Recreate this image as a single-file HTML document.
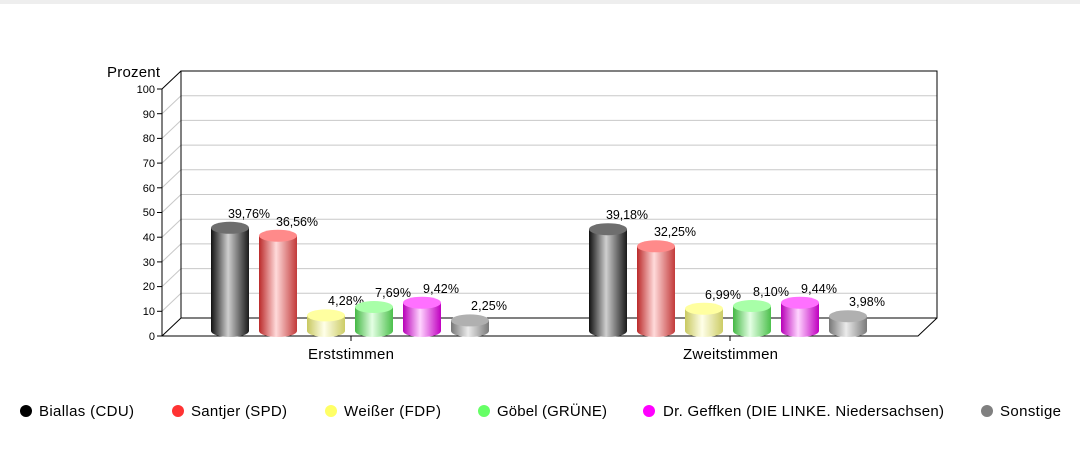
<!DOCTYPE html>
<html><head><meta charset="utf-8"><style>
html,body{margin:0;padding:0;background:#fff;}
svg{display:block;font-family:"Liberation Sans",Arial,sans-serif;}
</style></head><body>
<svg width="1080" height="450" viewBox="0 0 1080 450" xmlns="http://www.w3.org/2000/svg">
<defs>
<linearGradient id="g0" x1="0" x2="1"><stop offset="0" stop-color="#111"/><stop offset="0.45" stop-color="#cfcfcf"/><stop offset="1" stop-color="#1a1a1a"/></linearGradient>
<linearGradient id="g1" x1="0" x2="1"><stop offset="0" stop-color="#bb2a2a"/><stop offset="0.45" stop-color="#ffdada"/><stop offset="1" stop-color="#c23a3a"/></linearGradient>
<linearGradient id="g2" x1="0" x2="1"><stop offset="0" stop-color="#c8c860"/><stop offset="0.45" stop-color="#ffffe8"/><stop offset="1" stop-color="#cccc66"/></linearGradient>
<linearGradient id="g3" x1="0" x2="1"><stop offset="0" stop-color="#44b844"/><stop offset="0.45" stop-color="#e4ffe4"/><stop offset="1" stop-color="#4cc04c"/></linearGradient>
<linearGradient id="g4" x1="0" x2="1"><stop offset="0" stop-color="#b800b8"/><stop offset="0.45" stop-color="#ffd4ff"/><stop offset="1" stop-color="#c000c0"/></linearGradient>
<linearGradient id="g5" x1="0" x2="1"><stop offset="0" stop-color="#777"/><stop offset="0.45" stop-color="#ebebeb"/><stop offset="1" stop-color="#7a7a7a"/></linearGradient>
</defs>
<rect x="0" y="0" width="1080" height="4" fill="#eeeeee"/>
<g stroke="#c8c8c8" stroke-width="1">
<line x1="181" y1="293.3" x2="937" y2="293.3"/><line x1="181" y1="268.6" x2="937" y2="268.6"/><line x1="181" y1="243.9" x2="937" y2="243.9"/><line x1="181" y1="219.2" x2="937" y2="219.2"/><line x1="181" y1="194.5" x2="937" y2="194.5"/><line x1="181" y1="169.8" x2="937" y2="169.8"/><line x1="181" y1="145.1" x2="937" y2="145.1"/><line x1="181" y1="120.4" x2="937" y2="120.4"/><line x1="181" y1="95.7" x2="937" y2="95.7"/>
<line x1="162" y1="311.3" x2="181" y2="293.3"/><line x1="162" y1="286.6" x2="181" y2="268.6"/><line x1="162" y1="261.9" x2="181" y2="243.9"/><line x1="162" y1="237.2" x2="181" y2="219.2"/><line x1="162" y1="212.5" x2="181" y2="194.5"/><line x1="162" y1="187.8" x2="181" y2="169.8"/><line x1="162" y1="163.1" x2="181" y2="145.1"/><line x1="162" y1="138.4" x2="181" y2="120.4"/><line x1="162" y1="113.7" x2="181" y2="95.7"/>
</g>
<g stroke="#000" stroke-width="1" fill="none">
<polyline points="181,318 181,71 937,71 937,318 181,318"/>
<line x1="162" y1="336" x2="181" y2="318"/><line x1="162" y1="89" x2="181" y2="71"/>
<line x1="162" y1="336" x2="162" y2="89"/>
<polyline points="162,336 918,336 937,318"/>
<line x1="351" y1="336" x2="351" y2="341"/><line x1="730" y1="336" x2="730" y2="341"/>
</g>
<g stroke="#000"><line x1="157" y1="336" x2="162" y2="336"/><line x1="157" y1="311.3" x2="162" y2="311.3"/><line x1="157" y1="286.6" x2="162" y2="286.6"/><line x1="157" y1="261.9" x2="162" y2="261.9"/><line x1="157" y1="237.2" x2="162" y2="237.2"/><line x1="157" y1="212.5" x2="162" y2="212.5"/><line x1="157" y1="187.8" x2="162" y2="187.8"/><line x1="157" y1="163.1" x2="162" y2="163.1"/><line x1="157" y1="138.4" x2="162" y2="138.4"/><line x1="157" y1="113.7" x2="162" y2="113.7"/><line x1="157" y1="89" x2="162" y2="89"/></g>
<g font-size="11" text-anchor="end" fill="#000">
<text x="155" y="340">0</text><text x="155" y="315">10</text><text x="155" y="290">20</text><text x="155" y="266">30</text><text x="155" y="241">40</text><text x="155" y="216">50</text><text x="155" y="192">60</text><text x="155" y="167">70</text><text x="155" y="142">80</text><text x="155" y="118">90</text><text x="155" y="93">100</text>
</g>
<text x="107" y="77" font-size="15" textLength="53">Prozent</text>
<g font-size="15"><text x="308" y="359" textLength="86">Erststimmen</text><text x="683" y="359" textLength="95">Zweitstimmen</text></g>
<g font-size="15">
<circle cx="26" cy="411" r="6" fill="#000"/><text x="39" y="416" textLength="95">Biallas (CDU)</text>
<circle cx="178" cy="411" r="6" fill="#ff3333"/><text x="191" y="416" textLength="96">Santjer (SPD)</text>
<circle cx="331" cy="411" r="6" fill="#ffff66"/><text x="344" y="416" textLength="97">Weißer (FDP)</text>
<circle cx="484" cy="411" r="6" fill="#66ff66"/><text x="497" y="416" textLength="110">Göbel (GRÜNE)</text>
<circle cx="649" cy="411" r="6" fill="#ff00ff"/><text x="663" y="416" textLength="281">Dr. Geffken (DIE LINKE. Niedersachsen)</text>
<circle cx="987" cy="411" r="6" fill="#808080"/><text x="1000" y="416" textLength="61">Sonstige</text>
</g>
<g font-size="12.5">
<rect x="211" y="227.8" width="38" height="103.2" fill="url(#g0)"/><ellipse cx="230" cy="331" rx="19" ry="6" fill="url(#g0)"/><ellipse cx="230" cy="227.8" rx="19" ry="6" fill="#6e6e6e"/><text x="228" y="218" textLength="42">39,76%</text>
<rect x="259" y="235.7" width="38" height="95.3" fill="url(#g1)"/><ellipse cx="278" cy="331" rx="19" ry="6" fill="url(#g1)"/><ellipse cx="278" cy="235.7" rx="19" ry="6" fill="#ff8a8a"/><text x="276" y="226" textLength="42">36,56%</text>
<rect x="307" y="315.4" width="38" height="15.6" fill="url(#g2)"/><ellipse cx="326" cy="331" rx="19" ry="6" fill="url(#g2)"/><ellipse cx="326" cy="315.4" rx="19" ry="6" fill="#ffffa0"/><text x="328" y="305" textLength="36">4,28%</text>
<rect x="355" y="307" width="38" height="24" fill="url(#g3)"/><ellipse cx="374" cy="331" rx="19" ry="6" fill="url(#g3)"/><ellipse cx="374" cy="307" rx="19" ry="6" fill="#a8ffa8"/><text x="375" y="297" textLength="36">7,69%</text>
<rect x="403" y="302.7" width="38" height="28.3" fill="url(#g4)"/><ellipse cx="422" cy="331" rx="19" ry="6" fill="url(#g4)"/><ellipse cx="422" cy="302.7" rx="19" ry="6" fill="#ff70ff"/><text x="423" y="293" textLength="36">9,42%</text>
<rect x="451" y="320.4" width="38" height="10.6" fill="url(#g5)"/><ellipse cx="470" cy="331" rx="19" ry="6" fill="url(#g5)"/><ellipse cx="470" cy="320.4" rx="19" ry="6" fill="#b0b0b0"/><text x="471" y="310" textLength="36">2,25%</text>

<rect x="589" y="229.2" width="38" height="101.8" fill="url(#g0)"/><ellipse cx="608" cy="331" rx="19" ry="6" fill="url(#g0)"/><ellipse cx="608" cy="229.2" rx="19" ry="6" fill="#6e6e6e"/><text x="606" y="219" textLength="42">39,18%</text>
<rect x="637" y="246.3" width="38" height="84.7" fill="url(#g1)"/><ellipse cx="656" cy="331" rx="19" ry="6" fill="url(#g1)"/><ellipse cx="656" cy="246.3" rx="19" ry="6" fill="#ff8a8a"/><text x="654" y="236" textLength="42">32,25%</text>
<rect x="685" y="308.7" width="38" height="22.3" fill="url(#g2)"/><ellipse cx="704" cy="331" rx="19" ry="6" fill="url(#g2)"/><ellipse cx="704" cy="308.7" rx="19" ry="6" fill="#ffffa0"/><text x="705" y="299" textLength="36">6,99%</text>
<rect x="733" y="306" width="38" height="25" fill="url(#g3)"/><ellipse cx="752" cy="331" rx="19" ry="6" fill="url(#g3)"/><ellipse cx="752" cy="306" rx="19" ry="6" fill="#a8ffa8"/><text x="753" y="296" textLength="36">8,10%</text>
<rect x="781" y="302.7" width="38" height="28.3" fill="url(#g4)"/><ellipse cx="800" cy="331" rx="19" ry="6" fill="url(#g4)"/><ellipse cx="800" cy="302.7" rx="19" ry="6" fill="#ff70ff"/><text x="801" y="293" textLength="36">9,44%</text>
<rect x="829" y="316.2" width="38" height="14.8" fill="url(#g5)"/><ellipse cx="848" cy="331" rx="19" ry="6" fill="url(#g5)"/><ellipse cx="848" cy="316.2" rx="19" ry="6" fill="#b0b0b0"/><text x="849" y="306" textLength="36">3,98%</text>
</g>
</svg>
</body></html>
